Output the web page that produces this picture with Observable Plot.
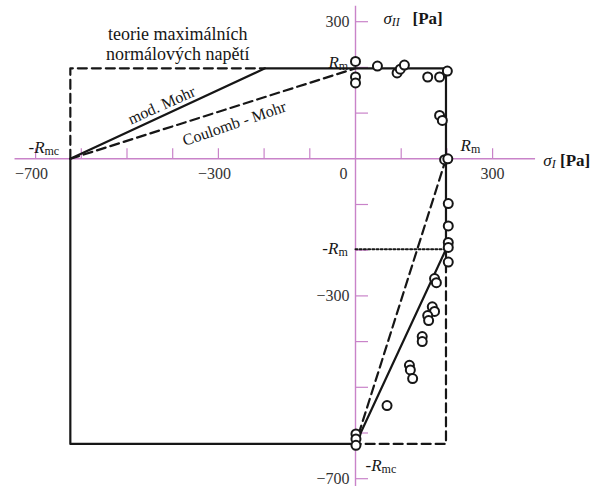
<!DOCTYPE html>
<html>
<head>
<meta charset="utf-8">
<script src="https://cdn.jsdelivr.net/npm/d3@7"></script>
<script src="https://cdn.jsdelivr.net/npm/@observablehq/plot@0.6"></script>
<style>
  body { margin: 0; background: #fff; }
  #chart svg { display: block; }
</style>
</head>
<body>
<div id="chart"></div>
<script>
// Material strengths [Pa]
const Rm = 198;   // tensile strength
const Rmc = 624;  // compressive strength

// Axis ticks
const tickValues = d3.range(-700, 301, 100);
const xTickLabels = [-700, -300, 0, 300];
const yTickLabels = [300, -300, -700];

// Measured failure stresses (principal stresses sigma_I, sigma_II)
const sigmaI  = [0, 0, 0, 48, 91, 98, 107, 158, 184, 201, 184, 190, 195, 202,
                 203, 203, 203, 203, 203, 173, 177, 168, 173, 158, 160, 146, 146,
                 118, 120, 125, 69, 1, 1, 1];
const sigmaII = [213, 179, 166, 203, 188, 196, 205, 179, 179, 192, 95, 84, -2, 0,
                 -98, -147, -183, -194, -226, -262, -271, -324, -334, -343, -354, -389, -400,
                 -452, -462, -481, -540, -602, -613, -627];

const points = sigmaI.map((s1, i) => ({s1, s2: sigmaII[i]}));

// Failure envelopes
const modMohr = [[-Rmc, 0], [-Rm, Rm], [Rm, Rm], [Rm, -Rm], [0, -Rmc], [-Rmc, -Rmc], [-Rmc, 0]];
const maxNormalA = [[-Rmc, 0], [-Rmc, Rm], [-Rm, Rm]];
const maxNormalB = [[Rm, -Rm], [Rm, -Rmc], [0, -Rmc]];
const coulombA = [[-Rmc, 0], [0, Rm]];
const coulombB = [[Rm, 0], [0, -Rmc]];
const tensileLevel = [[0, -Rm], [Rm, -Rm]];

// Layout: the axes cross inside the frame
const W = 592, H = 486;
const k = 0.457;              // pixels per Pa
const ox = 355, oy = 158.3;   // origin in pixels
const axisColor = "#c983c9";
const ink = "#161616";
const fmt = d => d < 0 ? "\u2212" + Math.abs(d) : String(d);
const dashed = {stroke: ink, strokeWidth: 2.2, strokeDasharray: "9,5"};

const chart = Plot.plot({
  width: W,
  height: H,
  margin: 0,
  x: {domain: [-ox / k, (W - ox) / k], range: [0, W], axis: null},
  y: {domain: [-(H - oy) / k, oy / k], range: [H, 0], axis: null},
  style: {fontFamily: "'Liberation Serif', 'Times New Roman', serif", background: "#fff", color: ink},
  marks: [
    // axes
    Plot.ruleY([0], {x1: -745, x2: 394, stroke: axisColor, strokeWidth: 1.4}),
    Plot.ruleX([0], {y1: -740, y2: 334, stroke: axisColor, strokeWidth: 1.4}),
    Plot.ruleX(tickValues.filter(v => v !== 0), {y1: 0, y2: 10 / k, stroke: axisColor, strokeWidth: 1.2}),
    Plot.ruleY(tickValues.filter(v => v !== 0), {x1: 0, x2: 13 / k, stroke: axisColor, strokeWidth: 1.2}),
    Plot.text(xTickLabels.filter(v => v < 0), {x: d => d, y: 0, text: fmt, dy: 15, dx: -4, fontSize: 16, fill: "#333"}),
    Plot.text(xTickLabels.filter(v => v === 0), {x: d => d, y: 0, text: fmt, dy: 15, dx: -8, textAnchor: "end", fontSize: 16, fill: "#333"}),
    Plot.text(xTickLabels.filter(v => v > 0), {x: d => d, y: 0, text: fmt, dy: 15, fontSize: 16, fill: "#333"}),
    Plot.text(yTickLabels, {x: 0, y: d => d, text: fmt, dx: -6, textAnchor: "end", fontSize: 16, fill: "#333"}),

    // envelopes
    Plot.line(maxNormalA, dashed),
    Plot.line(maxNormalB, dashed),
    Plot.line(coulombA, dashed),
    Plot.line(coulombB, dashed),
    Plot.line(tensileLevel, {stroke: ink, strokeWidth: 2, strokeDasharray: "2,2.2"}),
    Plot.line(modMohr, {stroke: ink, strokeWidth: 2.2}),

    // measurements
    Plot.dot(points, {x: "s1", y: "s2", r: 4.5, stroke: ink, strokeWidth: 2, fill: "white"}),

    // annotations
    Plot.text(["teorie maximálních\nnormálových napětí"], {x: -389, y: 252, fontSize: 18, lineHeight: 1.12, fill: ink}),
    Plot.text(["mod. Mohr"], {x: -424, y: 117, rotate: -24, fontSize: 16, fill: ink}),
    Plot.text(["Coulomb - Mohr"], {x: -265, y: 77, rotate: -19, fontSize: 16, fill: ink}),
    Plot.text(["-Rmc"], {x: -682, y: 25, fontSize: 17, fill: ink}),
    Plot.text(["Rm"], {x: -16, y: 211, textAnchor: "end", fontSize: 17, fill: ink}),
    Plot.text(["Rm"], {x: 230, y: 29, textAnchor: "start", fontSize: 17, fill: ink}),
    Plot.text(["-Rm"], {x: -17, y: -196, textAnchor: "end", fontSize: 17, fill: ink}),
    Plot.text(["-Rmc"], {x: 22, y: -671, textAnchor: "start", fontSize: 17, fill: ink}),
    Plot.text(["σII [Pa]"], {x: 61, y: 307, textAnchor: "start", fontSize: 17, fill: ink}),
    Plot.text(["σI [Pa]"], {x: 411, y: -3, textAnchor: "start", fontSize: 17, fill: ink})
  ]
});

// Italic symbols with small indices
const sub = {"font-size": "12px", dy: "2"};
const unsub = {dy: "-2"};
const rich = {
  "-Rmc": [["-"], ["R", {"font-style": "italic"}], ["mc", sub]],
  "-Rm": [["-"], ["R", {"font-style": "italic"}], ["m", sub]],
  "Rm": [["R", {"font-style": "italic"}], ["m", sub]],
  "σII [Pa]": [["σ", {"font-style": "italic"}], ["II", {...sub, "font-style": "italic"}], ["\u00a0\u00a0\u00a0[Pa]", {...unsub, "font-weight": "bold"}]],
  "σI [Pa]": [["σ", {"font-style": "italic"}], ["I", {...sub, "font-style": "italic"}], ["\u00a0[Pa]", {...unsub, "font-weight": "bold"}]]
};
d3.select(chart).selectAll("text").each(function () {
  const parts = rich[this.textContent];
  if (!parts) return;
  const el = d3.select(this).text(null);
  for (const [str, attrs = {}] of parts) {
    const t = el.append("tspan").text(str);
    for (const [a, v] of Object.entries(attrs)) t.attr(a, v);
  }
});

document.getElementById("chart").append(chart);
</script>
</body>
</html>
